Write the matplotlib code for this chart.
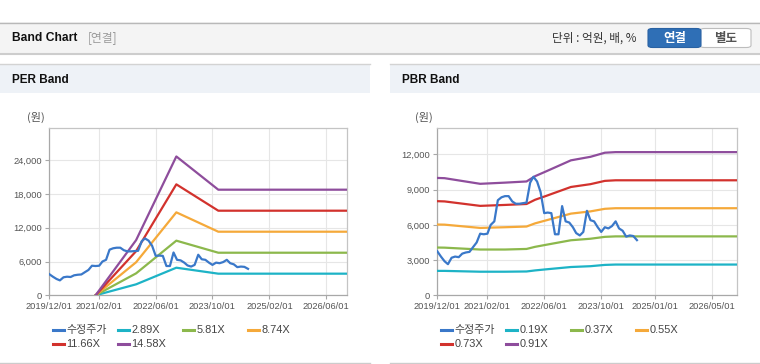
import matplotlib
matplotlib.use('Agg')
import matplotlib.pyplot as plt
from matplotlib.patches import Rectangle, FancyBboxPatch
from matplotlib.lines import Line2D
import pandas as pd

# ---- data ----
price = [3750, 3300, 2900, 2650, 3200, 3300, 3250, 3550, 3650, 3700,
         4100, 4500, 5250, 5200, 5250, 6000, 6300, 8100, 8350, 8450,
         8450, 8000, 7800, 7800, 7850, 7900, 9600, 10100, 9700, 8800,
         7000, 7050, 7000, 5200, 5200, 7600, 6300, 6200, 5800, 5300,
         5100, 5400, 7200, 6400, 6300, 5800, 5400, 5800, 5700, 5900,
         6300, 5700, 5500, 5000, 5100, 5050, 4700]
price_dates = pd.date_range('2019-12-01', periods=len(price), freq='MS')

per_names = ['2.89X', '5.81X', '8.74X', '11.66X', '14.58X']
per_dates = pd.to_datetime(['2021-01-01', '2021-12-15', '2022-11-25', '2023-11-20', '2026-12-01'])
per_bands = [
    [0, 1950, 4900, 3840, 3840],
    [0, 3900, 9700, 7560, 7560],
    [0, 5870, 14730, 11290, 11290],
    [0, 7840, 19700, 15020, 15020],
    [0, 9800, 24650, 18750, 18750],
]

pbr_names = ['0.19X', '0.37X', '0.55X', '0.73X', '0.91X']
pbr_dates = pd.to_datetime(['2019-12-01', '2020-02-01', '2020-12-01', '2021-07-01', '2022-01-01',
                            '2022-03-15', '2022-06-15', '2023-01-15', '2023-07-01', '2023-11-01',
                            '2024-02-01', '2026-12-01'])
pbr_bands = [
    [2080, 2080, 2010, 2010, 2030, 2120, 2210, 2410, 2480, 2590, 2620, 2620],
    [4070, 4060, 3900, 3900, 3950, 4130, 4300, 4690, 4820, 4980, 5020, 5020],
    [6030, 6020, 5740, 5800, 5860, 6130, 6380, 6960, 7150, 7370, 7420, 7420],
    [8020, 8000, 7620, 7700, 7780, 8140, 8460, 9230, 9470, 9750, 9800, 9800],
    [10000, 9980, 9500, 9600, 9700, 10150, 10550, 11500, 11800, 12150, 12200, 12200],
]

per_ticks = ['2019-12-01', '2021-02-01', '2022-06-01', '2023-10-01', '2025-02-01', '2026-06-01']
pbr_ticks = ['2019-12-01', '2021-02-01', '2022-06-01', '2023-10-01', '2025-01-01', '2026-05-01']
per_yticks = [0, 6000, 12000, 18000, 24000]
pbr_yticks = [0, 3000, 6000, 9000, 12000]

price_label = '수정주가'
price_color = '#3a78c9'
band_colors = ['#1db3c6', '#8cb84c', '#f5a93a', '#d2322d', '#8e4d9c']

# ---- figure ----
W, H = 760, 364
fig = plt.figure(figsize=(W / 100, H / 100), dpi=100)
fig.patch.set_facecolor('white')
num_font = ['Liberation Sans', 'Noto Sans CJK KR']
kr_font = ['Noto Sans CJK KR', 'DejaVu Sans']


def fx(x):
    return x / W


def fy(y):
    return 1 - y / H


def hline(x0, x1, y, color, lw=1.0):
    fig.add_artist(Line2D([fx(x0), fx(x1)], [fy(y), fy(y)], color=color, lw=lw,
                          transform=fig.transFigure))


# top header bar
fig.add_artist(Rectangle((0, fy(53)), 1, 31 / H, facecolor='#f4f4f4', edgecolor='none',
                         transform=fig.transFigure))
hline(0, 760, 22.5, '#b8b8b8')
hline(0, 760, 53.5, '#cdcdcd', lw=1.5)
fig.text(fx(12), fy(38), 'Band Chart', fontsize=8.7, fontweight='bold', family=num_font,
         color='#111111', va='center')
fig.text(fx(88), fy(38), '[연결]', fontsize=8.5, family=kr_font, color='#9a9a9a', va='center')
fig.text(fx(552), fy(38.5), '단위 : 억원, 배, %', fontsize=8.4, family=kr_font, color='#333333',
         va='center')
fig.add_artist(FancyBboxPatch((fx(700), fy(47.5)), fx(51), 19 / H,
                              boxstyle='round,pad=0,rounding_size=0.006',
                              facecolor='white', edgecolor='#bdbdbd', lw=0.8,
                              transform=fig.transFigure))
fig.add_artist(FancyBboxPatch((fx(648), fy(47.5)), fx(53), 19 / H,
                              boxstyle='round,pad=0,rounding_size=0.006',
                              facecolor='#2f6fb6', edgecolor='#2a62a3', lw=0.8,
                              transform=fig.transFigure))
fig.text(fx(674.5), fy(38.5), '연결', fontsize=9, fontweight='bold', family=kr_font,
         color='white', ha='center', va='center')
fig.text(fx(726), fy(38.5), '별도', fontsize=9, fontweight='bold', family=kr_font,
         color='#555555', ha='center', va='center')

# panel headers
for px0, px1, title in [(0, 370, 'PER Band'), (390, 760, 'PBR Band')]:
    fig.add_artist(Rectangle((fx(px0), fy(93)), fx(px1 - px0), 29 / H, facecolor='#eef2f7',
                             edgecolor='none', transform=fig.transFigure))
    hline(px0, px1, 64, '#d3d3d3')
    hline(px0, px1, 363, '#cccccc')
    fig.text(fx(px0 + 12), fy(80), title, fontsize=8.5, fontweight='bold', family=num_font,
             color='#111111', va='center')


def draw_panel(left, right, ymax, yticks, xticks, band_dates, bands, names):
    ax = fig.add_axes([fx(left), fy(295.3), fx(right - left), (295.3 - 128.3) / H])
    ax.plot(price_dates, price, color=price_color, lw=1.6, zorder=4)
    for vals, c in zip(bands, band_colors):
        ax.plot(band_dates, vals, color=c, lw=1.6, zorder=3)
    ax.set_xlim(pd.Timestamp('2019-12-01'), pd.Timestamp('2026-12-01'))
    ax.set_ylim(0, ymax)
    ax.set_yticks(yticks)
    ax.set_yticklabels([f'{v:,}' for v in yticks])
    tick_dates = pd.to_datetime(xticks)
    ax.set_xticks(tick_dates)
    ax.set_xticklabels([d.strftime('%Y/%m/%d') for d in tick_dates])
    ax.grid(True, color='#e6e6e6', lw=0.8)
    ax.set_axisbelow(True)
    for s in ax.spines.values():
        s.set_color('#c4c4c4')
        s.set_linewidth(0.9)
    ax.spines['left'].set_color('#a8a8a8')
    ax.spines['bottom'].set_color('#a8a8a8')
    ax.tick_params(length=3, width=0.8, color='#a8a8a8', labelsize=6.7, labelcolor='#555555',
                   pad=2)
    for lab in ax.get_xticklabels() + ax.get_yticklabels():
        lab.set_family(num_font)
    fig.text(fx(left - 5), fy(117.5), '(원)', fontsize=8, family=kr_font, color='#555555',
             ha='right', va='center')

    # legend
    labels = [price_label] + names
    colors = [price_color] + band_colors
    for i, (lab, c) in enumerate(zip(labels, colors)):
        col = i % 4 if i < 4 else i - 4
        row = 0 if i < 4 else 1
        x0 = left + 3.5 + col * 65
        y0 = 330 + row * 14.3
        fig.add_artist(Line2D([fx(x0), fx(x0 + 11)], [fy(y0), fy(y0)], color=c, lw=2.2,
                              transform=fig.transFigure))
        fig.text(fx(x0 + 13.5), fy(y0), lab, fontsize=7.9, family=num_font, color='#444444',
                 va='center')
    return ax


draw_panel(49.3, 347.3, 29650, per_yticks, per_ticks, per_dates, per_bands, per_names)
draw_panel(437.3, 736.7, 14230, pbr_yticks, pbr_ticks, pbr_dates, pbr_bands, pbr_names)

fig.savefig('out.png', dpi=100)
